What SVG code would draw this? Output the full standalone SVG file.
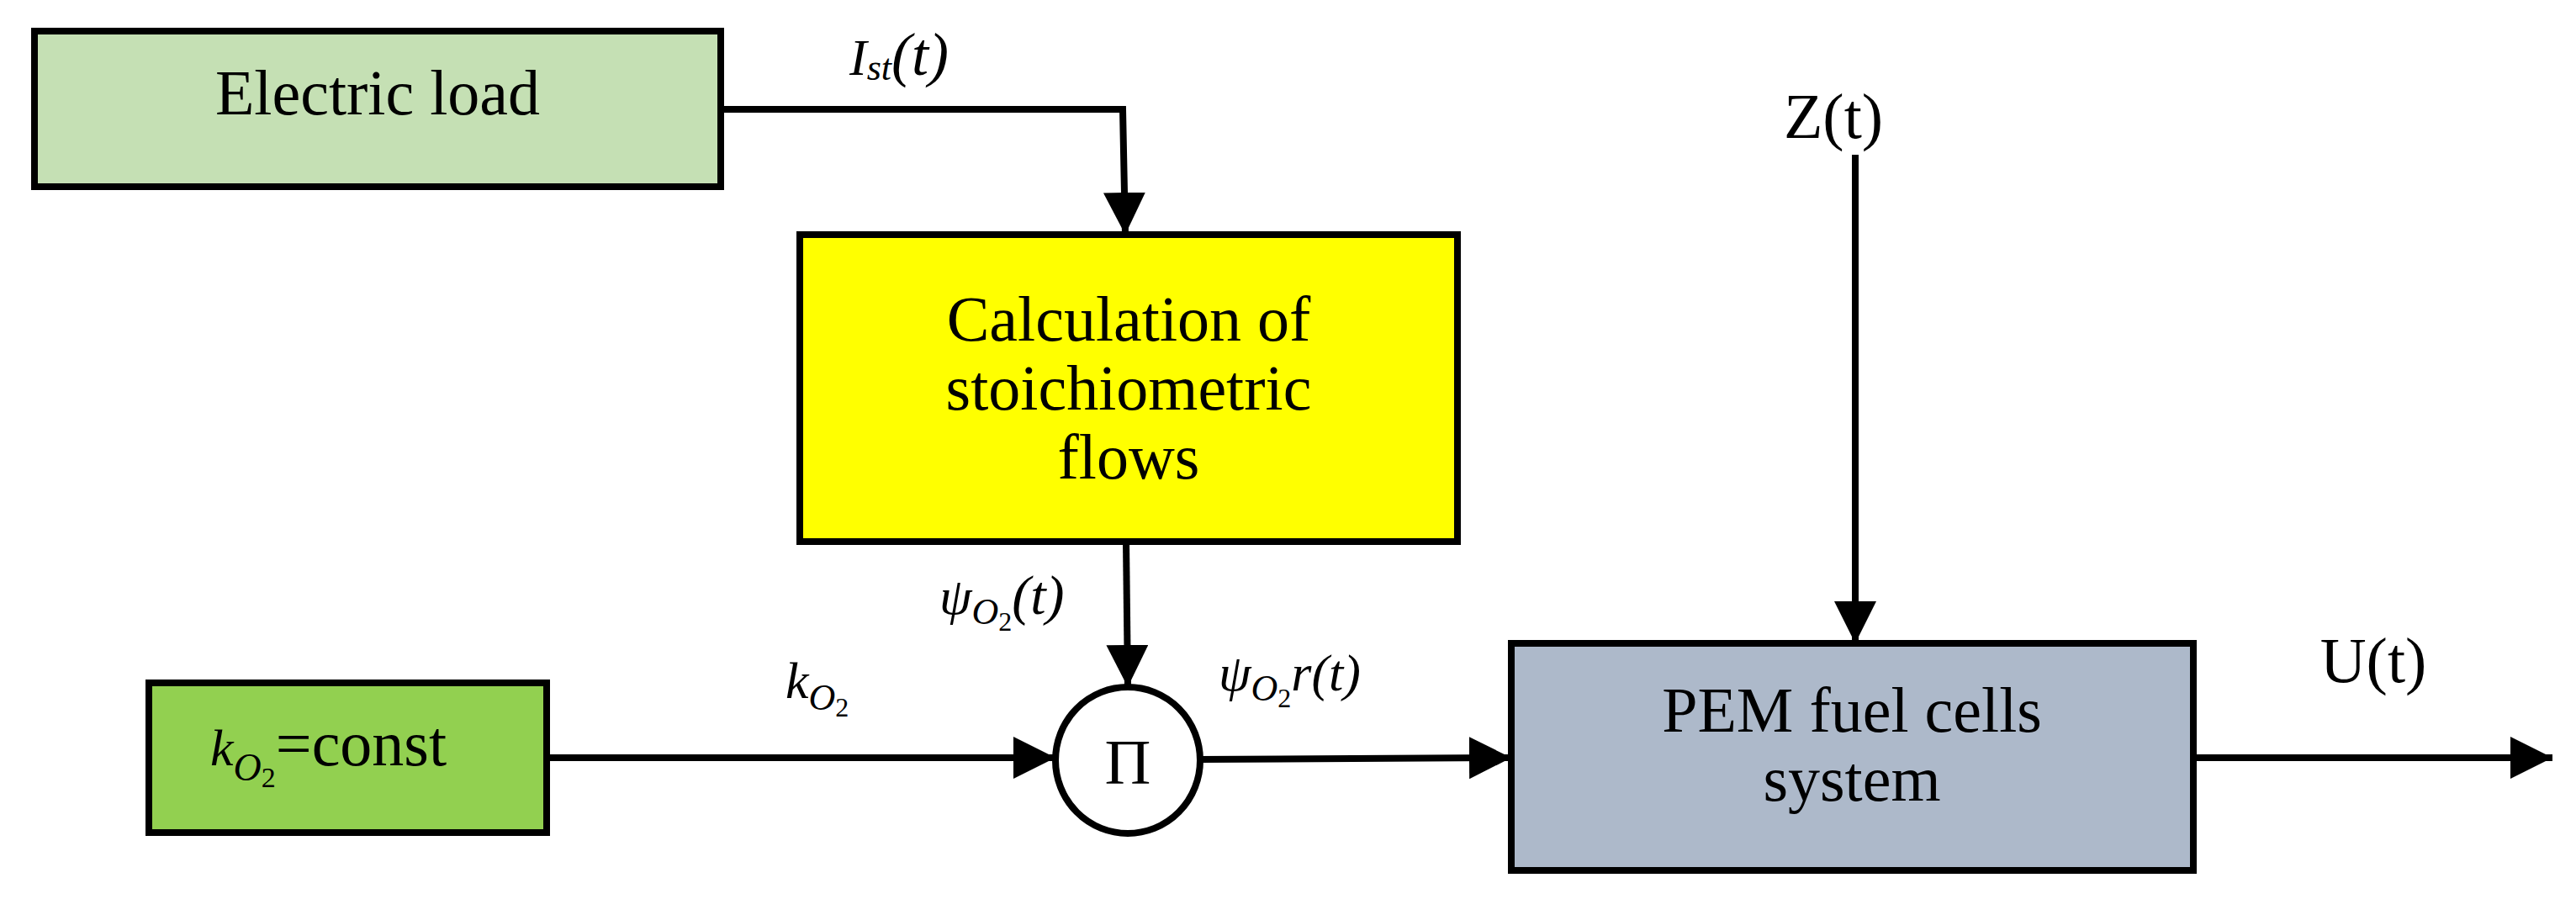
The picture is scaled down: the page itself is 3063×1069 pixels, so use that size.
<svg xmlns="http://www.w3.org/2000/svg" width="3063" height="1069" viewBox="0 0 3063 1069">
<style>
.box{stroke:#000;stroke-width:8}
.t{font-family:"Liberation Serif",serif;font-size:76px;fill:#000;text-anchor:middle}
.m{font-family:"Liberation Serif",serif;font-style:italic;font-size:62px;fill:#000}
.c{fill:none;stroke:#000;stroke-width:8}
</style>
<defs>
<marker id="a" viewBox="0 0 50 50" refX="50" refY="25" markerWidth="50" markerHeight="50" markerUnits="userSpaceOnUse" orient="auto">
<path d="M0,0 L50,25 L0,50 Z" fill="#000"/>
</marker>
</defs>
<rect width="3063" height="1069" fill="#fff"/>
<g id="electric-load"><rect class="box" x="41" y="37" width="816" height="185" fill="#C5E0B4"/><text class="t" x="449" y="136">Electric load</text></g>
<g id="calc"><rect class="box" x="951" y="279" width="782" height="365" fill="#FFFF00"/>
<text class="t" x="1342" y="405">Calculation of</text><text class="t" x="1342" y="487">stoichiometric</text><text class="t" x="1342" y="569">flows</text></g>
<g id="kconst"><rect class="box" x="177" y="812" width="473" height="178" fill="#92D050"/>
<text class="m" x="250" y="910" font-size="72">k<tspan font-size="46" dy="18">O</tspan><tspan font-size="34" font-style="normal" dy="8">2</tspan><tspan font-style="normal" font-size="76" dy="-26">=const</tspan></text></g>
<g id="mult"><ellipse cx="1341" cy="904" rx="86" ry="87" fill="#fff" stroke="#000" stroke-width="8"/><text class="t" x="1341" y="932" font-size="72">Π</text></g>
<g id="pem"><rect class="box" x="1797" y="765" width="811" height="270" fill="#ADB9CA"/>
<text class="t" x="2202" y="870">PEM fuel cells</text><text class="t" x="2202" y="952">system</text></g>
<g id="connectors">
<polyline class="c" points="857,130 1335,130 1338,279" marker-end="url(#a)"/>
<line class="c" x1="1339" y1="644" x2="1341" y2="817" marker-end="url(#a)"/>
<line class="c" x1="650" y1="901" x2="1255" y2="901" marker-end="url(#a)"/>
<line class="c" x1="1427" y1="903" x2="1797" y2="901" marker-end="url(#a)"/>
<line class="c" x1="2206" y1="184" x2="2206" y2="765" marker-end="url(#a)"/>
<line class="c" x1="2608" y1="901" x2="3035" y2="901" marker-end="url(#a)"/>
</g>
<g id="labels">
<text class="m" x="1010" y="89">I<tspan font-size="44" dy="6">st</tspan><tspan font-size="72" dy="-6">(t)</tspan></text>
<text class="m" x="1117" y="730">ψ<tspan font-size="44" dy="12">O</tspan><tspan font-size="32" font-style="normal" dy="8">2</tspan><tspan font-size="66" dy="-20">(t)</tspan></text>
<text class="m" x="934" y="830">k<tspan font-size="44" dy="14">O</tspan><tspan font-size="32" font-style="normal" dy="8">2</tspan></text>
<text class="m" x="1449" y="821">ψ<tspan font-size="44" dy="12">O</tspan><tspan font-size="32" font-style="normal" dy="8">2</tspan><tspan font-size="62" dy="-20">r(t)</tspan></text>
<text class="t" x="2180" y="164">Z(t)</text>
<text class="t" x="2822" y="811">U(t)</text>
</g>
</svg>
